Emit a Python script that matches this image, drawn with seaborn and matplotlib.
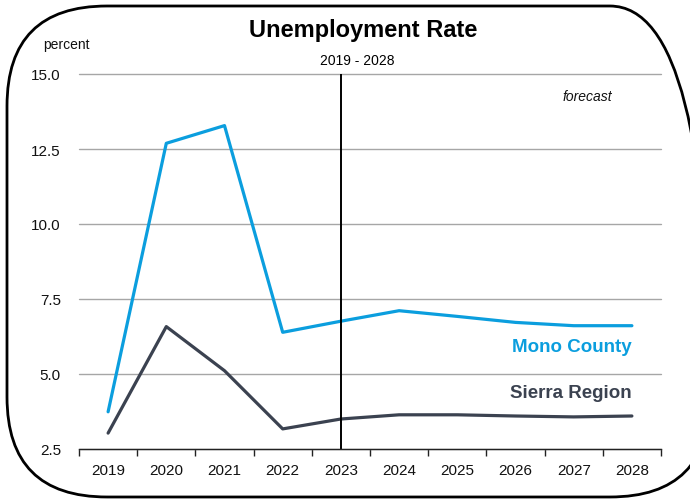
import matplotlib
matplotlib.use("Agg")
import matplotlib.pyplot as plt
from matplotlib.patches import FancyBboxPatch
import seaborn as sns
import pandas as pd

years = [2019, 2020, 2021, 2022, 2023, 2024, 2025, 2026, 2027, 2028]
mono = [3.74, 12.69, 13.28, 6.39, 6.76, 7.11, 6.92, 6.72, 6.61, 6.61]
sierra = [3.03, 6.58, 5.11, 3.17, 3.50, 3.64, 3.64, 3.60, 3.57, 3.60]
series_names = ["Mono County", "Sierra Region"]
colors = ["#0b9ede", "#3b4250"]
y_ticks = [2.5, 5.0, 7.5, 10.0, 12.5, 15.0]
forecast_year = 2023

df = pd.DataFrame({
    "year": years * 2,
    "rate": mono + sierra,
    "series": [series_names[0]] * len(years) + [series_names[1]] * len(years),
})

sns.set_theme(style="white")
plt.rcParams["font.family"] = ["Liberation Sans", "DejaVu Sans"]

fig = plt.figure(figsize=(6.9, 5.02), dpi=100)
ax = fig.add_axes([79/690, 1-450/502, (661-79)/690, (450-75)/502])

sns.lineplot(data=df, x="year", y="rate", hue="series", palette=colors,
             linewidth=2.3, ax=ax, legend=False)

ax.set_xlim(years[0]-0.5, years[-1]+0.5)
ax.set_ylim(y_ticks[0], y_ticks[-1])
ax.set_yticks(y_ticks)
ax.set_yticklabels([f"{v:.1f}" for v in y_ticks], fontsize=11, color="#111111")
ax.set_xticks(years)
ax.set_xticklabels([str(y) for y in years], fontsize=11, color="#111111")
ax.set_xticks([y - 0.5 for y in years] + [years[-1] + 0.5], minor=True)
ax.tick_params(axis="x", which="major", length=0, pad=10)
ax.tick_params(axis="x", which="minor", length=5, width=1, color="#222222", direction="out", bottom=True)
ax.tick_params(axis="y", length=0, pad=13)
ax.set_xlabel("")
ax.set_ylabel("")

ax.yaxis.grid(True, color="#a6a6a6", linewidth=1)
ax.xaxis.grid(False)
for gl in ax.get_ygridlines():
    gl.set_clip_on(False)
for s in ["left", "right", "top"]:
    ax.spines[s].set_visible(False)
ax.spines["bottom"].set_color("#222222")
ax.spines["bottom"].set_linewidth(1)
ax.spines["bottom"].set_zorder(5)

ax.axvline(forecast_year, color="black", linewidth=1.4, zorder=4)

ax.text(years[-1], 5.9, series_names[0], ha="right", va="center",
        fontsize=13.5, fontweight="bold", color=colors[0])
ax.text(years[-1], 4.37, series_names[1], ha="right", va="center",
        fontsize=13.5, fontweight="bold", color=colors[1])
ax.text(2027.23, 14.27, "forecast", ha="center", va="center",
        fontsize=10, style="italic", color="#111111")

fig.text(363/690, 1-31/502, "Unemployment Rate", ha="center", va="center",
         fontsize=17, fontweight="bold", color="black")
fig.text(357/690, 1-61/502, "2019 - 2028", ha="center", va="center",
         fontsize=10, color="black")
fig.text(43/690, 1-45/502, "percent", ha="left", va="center",
         fontsize=10, color="#111111")

frame = FancyBboxPatch((7, 502-498), 703, 491,
                       boxstyle="round,pad=0,rounding_size=100",
                       transform=None, fill=False, edgecolor="black",
                       linewidth=2, clip_on=False)
fig.patches.append(frame)

fig.savefig("out.png", dpi=100)
